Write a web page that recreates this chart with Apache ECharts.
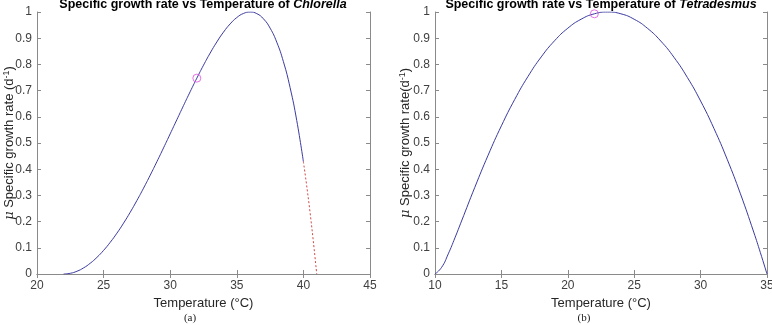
<!DOCTYPE html>
<html>
<head>
<meta charset="utf-8">
<script src="https://cdn.jsdelivr.net/npm/echarts@6/dist/echarts.min.js"></script>
<style>
  html, body { margin: 0; padding: 0; background: #fff; }
  #chart { width: 772px; height: 325px; }
</style>
</head>
<body>
<div id="chart"></div>
<script>
  // Chlorella: solid part
  const chlorellaTemp = [22, 22.5, 23, 23.5, 24, 24.5, 25, 25.5, 26, 26.5, 27, 27.5, 28, 28.5, 29, 29.5, 30, 30.5, 31, 31.5, 32, 32.5, 33, 33.5, 34, 34.5, 35, 35.5, 36, 36.5, 37, 37.5, 38, 38.5, 39, 39.5, 40];
  const chlorellaMu = [0, 0.0027, 0.0105, 0.0234, 0.0412, 0.0635, 0.0902, 0.1211, 0.1558, 0.1942, 0.2358, 0.2805, 0.3277, 0.3772, 0.4286, 0.4813, 0.535, 0.589, 0.6429, 0.6959, 0.7475, 0.7969, 0.8432, 0.8856, 0.9231, 0.9545, 0.9788, 0.9944, 1, 0.9938, 0.974, 0.9385, 0.8848, 0.8103, 0.7118, 0.5859, 0.4286];
  // Chlorella: dashed extension
  const chlorellaExtTemp = [40, 40.5, 41];
  const chlorellaExtMu = [0.4286, 0.2351, 0];
  const chlorellaMark = [32, 0.7475];

  // Tetradesmus
  const tetraTemp = [10, 10.5, 11, 11.5, 12, 13, 14, 15, 16, 17, 18, 19, 20, 21, 22, 23, 24, 25, 26, 27, 28, 29, 30, 31, 32, 33, 34, 34.5, 35];
  const tetraMu = [0, 0.0255, 0.0769, 0.1379, 0.2022, 0.3311, 0.4534, 0.5656, 0.666, 0.7538, 0.8286, 0.8901, 0.9381, 0.9724, 0.9931, 1, 0.9931, 0.9723, 0.9377, 0.8892, 0.8268, 0.7505, 0.6603, 0.5561, 0.438, 0.306, 0.16, 0.0817, 0];
  const tetraMark = [22, 0.9931];

  const pairs = (xs, ys) => xs.map((x, i) => [x, ys[i]]);

  let chart = echarts.init(document.getElementById("chart"));

  const axisColor = "#8a8a8a";
  const labelColor = "#404040";
  const fontFam = "'Liberation Sans', Arial, sans-serif";

  function xAxes(gi, min, max) {
    return [
      {
        gridIndex: gi, type: "value", min: min, max: max, interval: 5,
        name: "Temperature (°C)", nameLocation: "middle", nameGap: 22,
        nameTextStyle: { fontSize: 13, color: "#262626", fontFamily: fontFam },
        axisLine: { lineStyle: { color: axisColor } },
        axisTick: { inside: true, length: 4, lineStyle: { color: axisColor } },
        axisLabel: { fontSize: 12, color: labelColor, fontFamily: fontFam, margin: 6 },
        splitLine: { show: false }
      },
      {
        gridIndex: gi, type: "value", min: min, max: max, interval: 5, position: "top",
        axisLine: { lineStyle: { color: axisColor } },
        axisTick: { inside: true, length: 4, lineStyle: { color: axisColor } },
        axisLabel: { show: false }, splitLine: { show: false }
      }
    ];
  }

  function yAxes(gi, name, gap) {
    return [
      {
        gridIndex: gi, type: "value", min: 0, max: 1, interval: 0.1,
        name: name, nameLocation: "middle", nameGap: gap, nameMoveOverlap: false,
        nameTextStyle: {
          fontSize: 13, color: "#262626", fontFamily: fontFam, lineHeight: 15,
          rich: {
            i: { fontSize: 13, fontStyle: "italic", fontFamily: "'DejaVu Serif', serif", color: "#262626" },
            sup: { fontSize: 9, verticalAlign: "top", lineHeight: 15, color: "#262626", fontFamily: fontFam }
          }
        },
        axisLine: { lineStyle: { color: axisColor } },
        axisTick: { inside: true, length: 4, lineStyle: { color: axisColor } },
        axisLabel: {
          fontSize: 12, color: labelColor, fontFamily: fontFam, margin: 5,
          formatter: v => String(Math.round(v * 10) / 10)
        },
        splitLine: { show: false }
      },
      {
        gridIndex: gi, type: "value", min: 0, max: 1, interval: 0.1, position: "right",
        axisLine: { lineStyle: { color: axisColor } },
        axisTick: { inside: true, length: 4, lineStyle: { color: axisColor } },
        axisLabel: { show: false }, splitLine: { show: false }
      }
    ];
  }

  const blue = "#3a3aa0";
  const markStyle = {
    type: "scatter", symbol: "circle", symbolSize: 8,
    itemStyle: { color: "rgba(0,0,0,0)", borderColor: "#e050e0", borderWidth: 1 },
    z: 5
  };

  const titleRich = {
    b: { fontSize: 12.5, fontWeight: "bold", fontFamily: fontFam, fill: "#000" },
    bi: { fontSize: 12.5, fontWeight: "bold", fontStyle: "italic", fontFamily: fontFam, fill: "#000" }
  };

  let option = {
    animation: false,
    backgroundColor: "#fff",
    grid: [
      { left: 37, right: 402, top: 12, bottom: 51, outerBoundsMode: "none" },
      { left: 435, right: 5, top: 12, bottom: 51, outerBoundsMode: "none" }
    ],
    xAxis: [...xAxes(0, 20, 45), ...xAxes(1, 10, 35)],
    yAxis: [
      ...yAxes(0, "{i|μ} Specific growth rate (d{sup|-1})", 20),
      ...yAxes(1, "{i|μ} Specific growth rate(d{sup|-1})", 22)
    ],
    graphic: [
      {
        type: "text", x: 203, y: 11,
        style: {
          text: "{b|Specific growth rate vs Temperature of }{bi|Chlorella}",
          align: "center", verticalAlign: "bottom", rich: titleRich
        }
      },
      {
        type: "text", x: 601, y: 11,
        style: {
          text: "{b|Specific growth rate vs Temperature of }{bi|Tetradesmus}",
          align: "center", verticalAlign: "bottom", rich: titleRich
        }
      },
      {
        type: "text", x: 190, y: 313,
        style: { text: "(a)", align: "center", fontSize: 11, fontFamily: "'Liberation Serif', 'Times New Roman', serif", fill: "#222" }
      },
      {
        type: "text", x: 584, y: 313,
        style: { text: "(b)", align: "center", fontSize: 11, fontFamily: "'Liberation Serif', 'Times New Roman', serif", fill: "#222" }
      }
    ],
    series: [
      {
        type: "line", xAxisIndex: 0, yAxisIndex: 0, showSymbol: false, smooth: true,
        lineStyle: { color: blue, width: 1 },
        data: pairs(chlorellaTemp, chlorellaMu)
      },
      {
        type: "line", xAxisIndex: 0, yAxisIndex: 0, showSymbol: false, smooth: true,
        lineStyle: { color: "#d04848", width: 1, type: [2, 2] },
        data: pairs(chlorellaExtTemp, chlorellaExtMu)
      },
      { ...markStyle, xAxisIndex: 0, yAxisIndex: 0, data: [chlorellaMark] },
      {
        type: "line", xAxisIndex: 2, yAxisIndex: 2, showSymbol: false, smooth: true,
        lineStyle: { color: blue, width: 1 },
        data: pairs(tetraTemp, tetraMu)
      },
      { ...markStyle, xAxisIndex: 2, yAxisIndex: 2, data: [tetraMark] }
    ]
  };

  chart.setOption(option);
</script>
</body>
</html>
